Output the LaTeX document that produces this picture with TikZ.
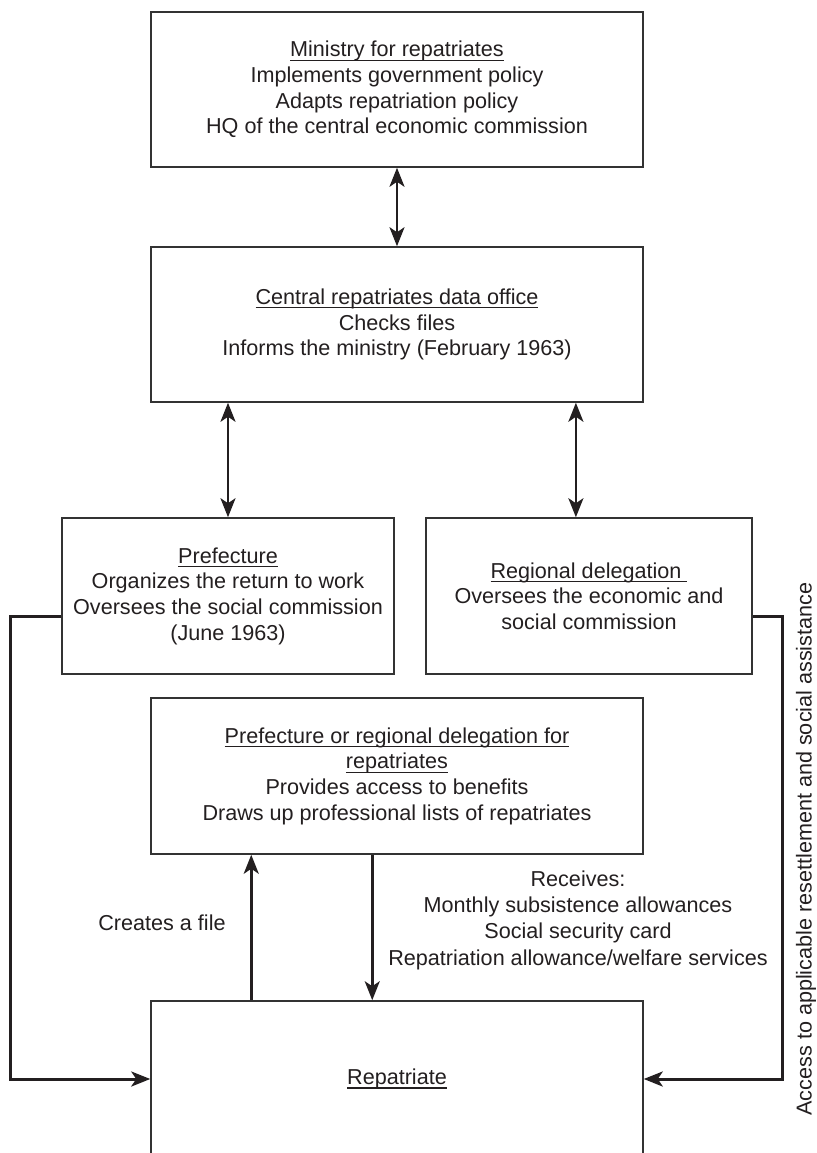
\documentclass[tikz,border=0pt]{standalone}
\usepackage{fontspec}
\setmainfont{Liberation Sans}
\usetikzlibrary{arrows.meta,calc}
\definecolor{ink}{HTML}{231F20}
\definecolor{edge}{HTML}{333333}
\newcommand{\myul}[1]{\leavevmode\setbox0\hbox{#1}\rlap{\rule[-4pt]{\wd0}{1.2pt}}\box0}
\begin{document}
\begin{tikzpicture}[x=1pt,y=-1pt,
  txt/.style={font=\fontsize{21.6}{25.7}\selectfont,text=ink,align=center,inner sep=0pt},
  box/.style={txt,draw=edge,line width=1.5pt,rectangle,minimum height=156pt},
  tip/.style={-{Stealth[length=19pt,width=15pt,inset=5pt]}},
  biarrow/.style={{Stealth[length=19pt,width=15pt,inset=5pt]}-{Stealth[length=19pt,width=15pt,inset=5pt]},draw=ink,line width=2.6pt},
  arr/.style={tip,draw=ink,line width=2.6pt},
  conn/.style={tip,draw=ink,line width=3pt}]
\useasboundingbox (0,0) rectangle (816,1153);
\fill[white] (0,0) rectangle (816,1153);

\node[box,minimum width=492pt,minimum height=155pt] (mini) at (397,89.5)
  {\myul{Ministry for repatriates}\\Implements government policy\\Adapts repatriation policy\\HQ of the central economic commission};
\node[box,minimum width=492pt,minimum height=155pt] (central) at (397,324.5)
  {\myul{Central repatriates data office}\\Checks files\\Informs the ministry (February 1963)};
\node[box,minimum width=332pt] (pref) at (228,596)
  {\myul{Prefecture}\\Organizes the return to work\\Oversees the social commission\\(June 1963)};
\node[box,minimum width=326pt] (regdel) at (589,596)
  {\myul{Regional delegation\ }\\Oversees the economic and\\social commission};
\node[box,minimum width=492pt] (prefreg) at (397,776)
  {\myul{Prefecture or regional delegation for}\\\myul{repatriates}\\Provides access to benefits\\Draws up professional lists of repatriates};
\node[box,minimum width=492pt] (repat) at (397,1079) {\myul{Repatriate}};

\node[txt] (creates) at (162,923) {Creates a file};
\node[txt,font=\fontsize{21.6}{26.3}\selectfont] (receives) at (578,920)
  {Receives:\\Monthly subsistence allowances\\Social security card\\Repatriation allowance/welfare services};
\node[txt,rotate=90] (access) at (806,849) {Access to applicable resettlement and social assistance};

\draw[biarrow] (mini.south) -- (central.north);
\draw[biarrow] (central.south -| pref.north) -- (pref.north);
\coordinate (rtop) at ($(regdel.north west)!0.46!(regdel.north east)$);
\draw[biarrow] (central.south -| rtop) -- (rtop);

\coordinate (upfoot) at ($(repat.north west)+(101,0)$);
\draw[arr] (upfoot) -- (upfoot |- prefreg.south);
\coordinate (downtop) at ($(prefreg.south west)+(222,0)$);
\draw[arr] (downtop) -- (downtop |- repat.north);

\draw[conn] ([yshift=-20pt]pref.west) -- ++(-51,0) |- (repat.west);
\draw[conn] ([yshift=-20pt]regdel.east) -- ++(30,0) |- (repat.east);
\end{tikzpicture}
\end{document}
